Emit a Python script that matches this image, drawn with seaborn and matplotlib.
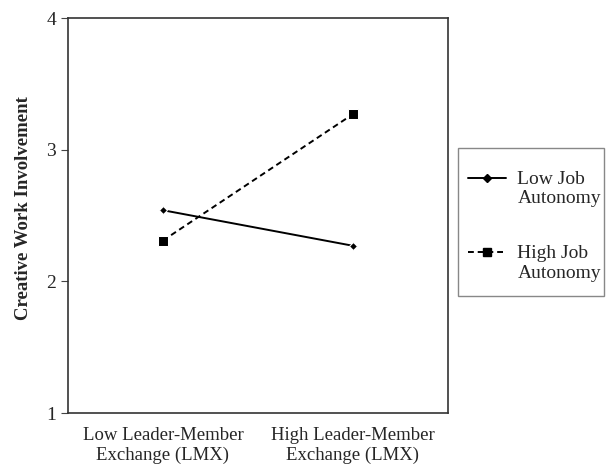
import numpy as np
import pandas as pd
import matplotlib
matplotlib.use("Agg")
import matplotlib.pyplot as plt
import seaborn as sns
from matplotlib.lines import Line2D
from matplotlib.patches import Rectangle
from matplotlib.legend_handler import HandlerLine2D

categories = ["Low Leader-Member\nExchange (LMX)", "High Leader-Member\nExchange (LMX)"]
low_autonomy = [2.54, 2.27]
high_autonomy = [2.31, 3.27]
series_names = ["Low Job\nAutonomy", "High Job\nAutonomy"]
y_ticks = [1, 2, 3, 4]

df = pd.DataFrame({
    "x": [0, 1, 0, 1],
    "y": low_autonomy + high_autonomy,
    "series": [series_names[0]] * 2 + [series_names[1]] * 2,
})

sns.set_style("white")
plt.rcParams["font.family"] = ["Liberation Serif", "DejaVu Serif"]

fig = plt.figure(figsize=(6.06, 4.66), dpi=100)
ax = fig.add_axes([68 / 606, 1 - 413 / 466, 380 / 606, 395 / 466])

sns.lineplot(data=df, x="x", y="y", hue="series", style="series",
             palette=["black", "black"],
             markers={series_names[0]: "D", series_names[1]: "s"},
             dashes={series_names[0]: "", series_names[1]: (3, 2)},
             markersize=6, linewidth=1.4, ax=ax, legend=False)

ax.lines[0].set_markersize(4.5)
ax.lines[1].set_markersize(7)

ax.set_xlim(-0.5, 1.5)
ax.set_ylim(1, 4)
ax.set_xticks([0, 1])
ax.set_xticklabels(categories, fontsize=13.5)
ax.set_xticks([-0.5, 0.5, 1.5], minor=True)
ax.tick_params(axis="x", which="major", length=0, pad=10)
ax.tick_params(axis="x", which="minor", length=5, direction="out", color="#444444")
ax.set_yticks(y_ticks)
ax.set_yticklabels([str(v) for v in y_ticks], fontsize=14)
ax.tick_params(axis="y", length=5, direction="out", color="#444444", left=True)
ax.set_xlabel("")
ax.set_ylabel("Creative Work Involvement", fontsize=13.5, fontweight="bold")
ax.yaxis.set_label_coords(-36 / 380, 0.52)

for s in ax.spines.values():
    s.set_color("#333333")
    s.set_linewidth(1.2)


# legend handle sits on the first text line, like the original
class TopLineHandler(HandlerLine2D):
    def create_artists(self, legend, orig_handle, xdescent, ydescent,
                       width, height, fontsize, trans):
        arts = super().create_artists(legend, orig_handle, xdescent, ydescent,
                                      width, height, fontsize, trans)
        for a in arts:
            a.set_ydata(np.asarray(a.get_ydata()) + 0.58 * fontsize)
        return arts


handles = [
    Line2D([], [], color="black", lw=1.4, marker="D", markersize=4.5),
    Line2D([], [], color="black", lw=1.4, ls=(0, (3, 2)), marker="s", markersize=6),
]
leg = fig.legend(handles, series_names, loc="upper left",
                 bbox_to_anchor=(462 / 606, 1 - 165 / 466),
                 fontsize=14, frameon=False,
                 handlelength=1.95, labelspacing=1.95, borderpad=0.3,
                 borderaxespad=0, handletextpad=0.6,
                 handler_map={Line2D: TopLineHandler()})

fig.patches.append(Rectangle((458 / 606, 1 - 296 / 466), 146 / 606, 148 / 466,
                             transform=fig.transFigure, fill=False,
                             edgecolor="#888888", linewidth=1.0))

fig.savefig("out.png", dpi=100)
